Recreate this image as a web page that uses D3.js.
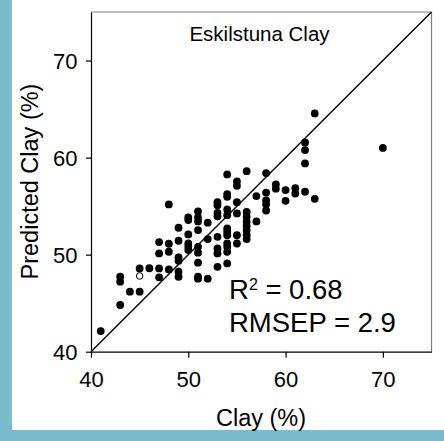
<!DOCTYPE html>
<html>
<head>
<meta charset="utf-8">
<script src="https://cdn.jsdelivr.net/npm/d3@7"></script>
<style>
  html, body { margin: 0; padding: 0; background: #7abcce; }
  svg { display: block; }
</style>
</head>
<body>
<svg id="chart" width="444" height="441"></svg>
<script>
// Measured clay content (%) for each sample
const clay = [
  41,
  43, 43, 43,
  44,
  45, 45,
  46,
  47, 47, 47, 47,
  48, 48, 48, 48,
  49, 49, 49, 49, 49, 49,
  50, 50, 50, 50, 50, 50,
  51, 51, 51, 51, 51, 51, 51, 51, 51,
  52, 52, 52,
  53, 53, 53, 53, 53, 53, 53, 53,
  54, 54, 54, 54, 54, 54, 54, 54, 54, 54, 54, 54,
  55, 55, 55, 55, 55, 55,
  56, 56, 56, 56, 56, 56, 56, 56,
  57, 57,
  58, 58, 58, 58, 58,
  59, 59,
  60, 60,
  61, 61,
  62, 62, 62, 62,
  63, 63,
  70
];

// Predicted clay content (%) for the same samples
const predicted = [
  42.13,
  47.72, 47.21, 44.81,
  46.18,
  48.58, 46.18,
  48.6,
  51.29, 50.13, 48.58, 47.66,
  55.17, 51.12, 50.30, 48.48,
  52.77, 51.43, 49.72, 49.37, 48.24, 47.72,
  53.83, 53.56, 52.08, 51.16, 50.81, 50.47,
  54.45, 53.83, 53.42, 52.53, 50.81, 50.20, 49.17, 47.72, 47.52,
  53.29, 51.60, 47.52,
  55.4, 55.1, 54.3, 53.95, 51.84, 50.64, 50.13, 48.75,
  58.26, 56.24, 55.96, 54.66, 54.07, 52.70, 52.36, 52.01, 51.16, 50.81, 50.30, 49.10,
  57.55, 57.1, 55.4, 54.25, 52.0, 51.15,
  58.6, 54.4, 53.9, 53.4, 52.95, 52.5, 52.0, 51.6,
  56.03, 53.42,
  58.4, 56.4, 55.6, 55.2, 54.55,
  57.25, 56.8,
  56.65, 55.55,
  56.85, 56.3,
  61.56, 60.77, 59.40, 56.48,
  64.55, 55.75,
  61.0
];

// Sample drawn as an open marker
const openClay = [45];
const openPredicted = [47.8];

const xTicks = [40, 50, 60, 70];
const yTicks = [40, 50, 60, 70];
const domain = [40, 75];

const panelTitle = "Eskilstuna Clay";
const xTitle = "Clay (%)";
const yTitle = "Predicted Clay (%)";
const r2Value = "0.68";
const rmsepValue = "2.9";

const font = "'Liberation Sans', Arial, Helvetica, sans-serif";

const svg = d3.select("#chart");

// white panel on the blue page background
svg.append("rect")
  .attr("x", 12).attr("y", 0)
  .attr("width", 432).attr("height", 430)
  .attr("fill", "#ffffff");

const x = d3.scaleLinear().domain(domain).range([91, 431.5]);
const y = d3.scaleLinear().domain(domain).range([351.7, 12]);

// top and right frame edges (grey)
svg.append("line")
  .attr("x1", x(40)).attr("x2", x(75)).attr("y1", y(75)).attr("y2", y(75))
  .attr("stroke", "#7f7f7f").attr("stroke-width", 1.2);
svg.append("line")
  .attr("x1", x(75)).attr("x2", x(75)).attr("y1", y(75)).attr("y2", y(40))
  .attr("stroke", "#7f7f7f").attr("stroke-width", 1.2);

// x axis
const gx = svg.append("g")
  .attr("transform", `translate(0,${y(40)})`)
  .call(d3.axisBottom(x).tickValues(xTicks).tickSize(6).tickSizeOuter(0).tickFormat(d3.format("d")));
gx.select(".domain").attr("stroke", "#000").attr("stroke-width", 1.2);
gx.selectAll(".tick line").attr("stroke", "#000").attr("stroke-width", 1.2);
gx.selectAll(".tick text")
  .attr("y", 35).attr("dy", 0)
  .attr("font-family", font).attr("font-size", 22).attr("fill", "#000");

// y axis
const gy = svg.append("g")
  .attr("transform", `translate(${x(40)},0)`)
  .call(d3.axisLeft(y).tickValues(yTicks).tickSize(5).tickSizeOuter(0).tickFormat(d3.format("d")));
gy.select(".domain").attr("stroke", "#000").attr("stroke-width", 1.2);
gy.selectAll(".tick line").attr("stroke", "#000").attr("stroke-width", 1.2);
gy.selectAll(".tick text")
  .attr("x", -13.5).attr("dy", "0.36em")
  .attr("font-family", font).attr("font-size", 22).attr("fill", "#000");

// 1:1 line
svg.append("line")
  .attr("x1", x(40)).attr("y1", y(40))
  .attr("x2", x(75)).attr("y2", y(75))
  .attr("stroke", "#000").attr("stroke-width", 1.4);

// samples
const pts = clay.map((c, i) => ({ c, p: predicted[i] }));
svg.append("g").selectAll("circle")
  .data(pts)
  .join("circle")
  .attr("cx", d => x(d.c))
  .attr("cy", d => y(d.p))
  .attr("r", 3.9)
  .attr("fill", "#000");

const openPts = openClay.map((c, i) => ({ c, p: openPredicted[i] }));
svg.append("g").selectAll("circle")
  .data(openPts)
  .join("circle")
  .attr("cx", d => x(d.c))
  .attr("cy", d => y(d.p))
  .attr("r", 3.3)
  .attr("fill", "#fff")
  .attr("stroke", "#000")
  .attr("stroke-width", 1);

// panel title
svg.append("text")
  .attr("x", 259.5).attr("y", 41)
  .attr("text-anchor", "middle")
  .attr("font-family", font).attr("font-size", 20.5).attr("fill", "#000")
  .text(panelTitle);

// statistics
const r2 = svg.append("text")
  .attr("x", 229).attr("y", 299)
  .attr("font-family", font).attr("font-size", 27.5).attr("fill", "#000");
r2.append("tspan").text("R");
r2.append("tspan").attr("font-size", 16).attr("dy", -8.6).text("2");
r2.append("tspan").attr("dy", 8.6).text(" = " + r2Value);

svg.append("text")
  .attr("x", 229).attr("y", 332)
  .attr("font-family", font).attr("font-size", 27.5).attr("fill", "#000")
  .text("RMSEP = " + rmsepValue);

// axis titles
svg.append("text")
  .attr("x", 261).attr("y", 426)
  .attr("text-anchor", "middle")
  .attr("font-family", font).attr("font-size", 23.5).attr("fill", "#000")
  .text(xTitle);

svg.append("text")
  .attr("transform", "translate(37.5,181.5) rotate(-90)")
  .attr("text-anchor", "middle")
  .attr("font-family", font).attr("font-size", 23.5).attr("fill", "#000")
  .text(yTitle);
</script>
</body>
</html>
